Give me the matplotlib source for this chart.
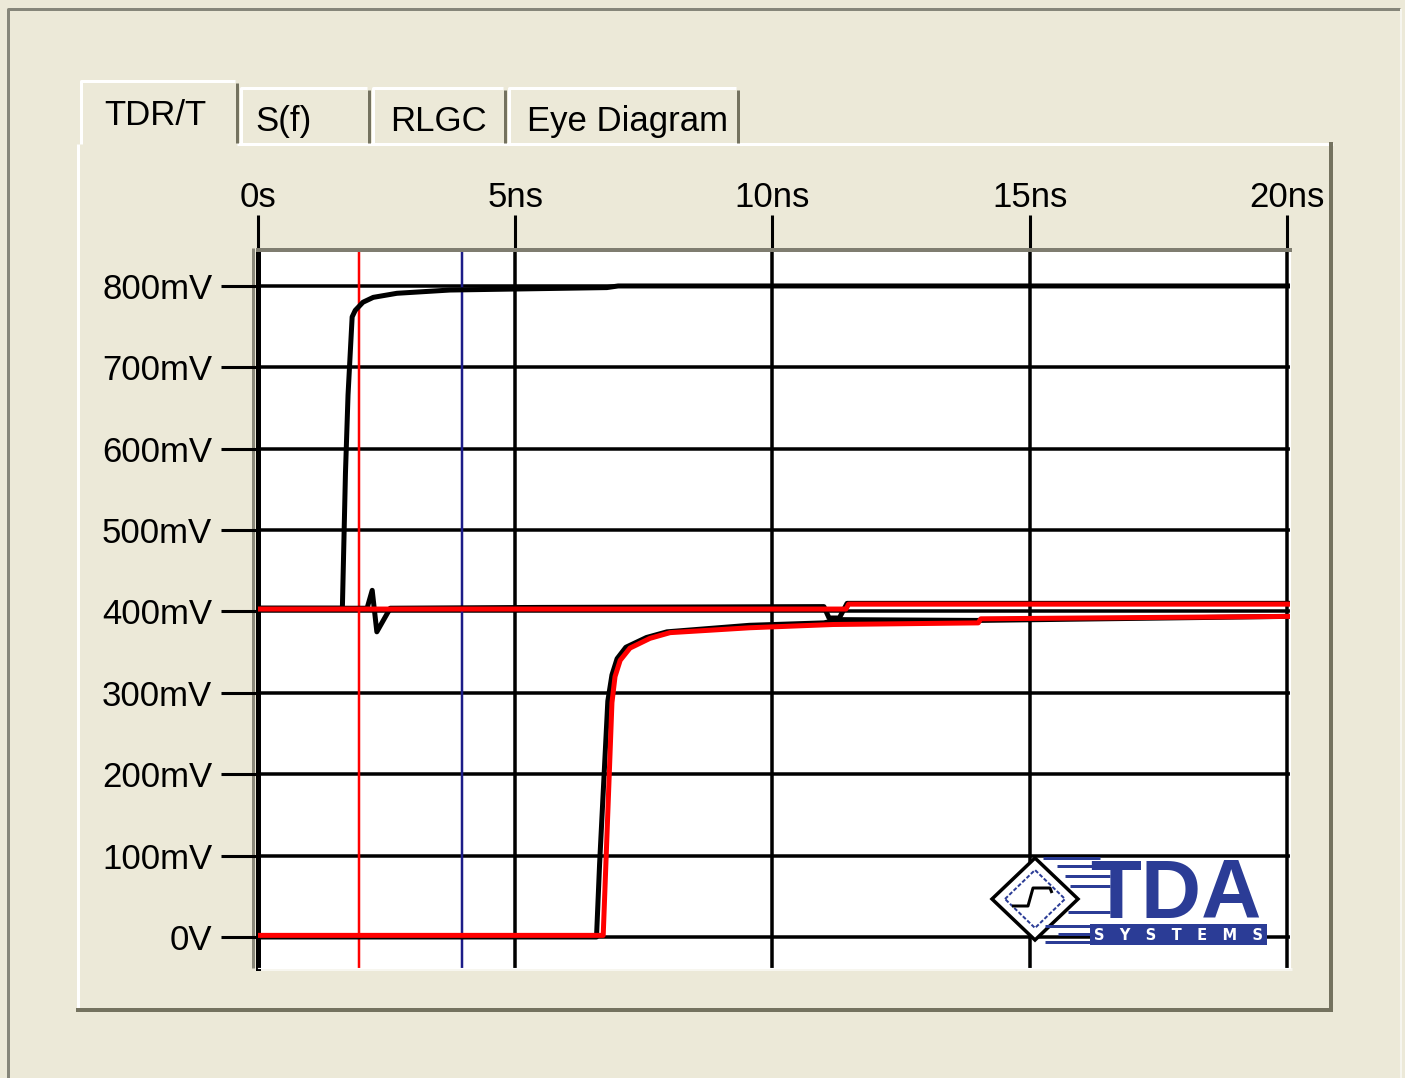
import numpy as np
import matplotlib.pyplot as plt
from matplotlib.patches import Rectangle, Polygon

plt.rcParams['font.family'] = ['Liberation Sans', 'DejaVu Sans']

W, H = 1405, 1078
BEIGE = '#ECE9D8'
SHADOW = '#74725f'
NAVY = '#2B3C96'

# axis ticks (time in ns, voltage in mV)
x_ticks = [0, 5, 10, 15, 20]
x_labels = ['0s', '5ns', '10ns', '15ns', '20ns']
y_ticks = [0, 100, 200, 300, 400, 500, 600, 700, 800]
y_labels = ['0V', '100mV', '200mV', '300mV', '400mV', '500mV', '600mV', '700mV', '800mV']
tabs = ['TDR/T', 'S(f)', 'RLGC', 'Eye Diagram']

# measured TDR (black)
tdr_meas_t = [0, 1.64, 1.70, 1.75, 1.83, 1.89, 2.04, 2.24, 2.70, 3.73, 6.78, 7.00, 20.06]
tdr_meas_v = [404, 404, 570, 666, 762, 770, 780, 786, 791, 795, 798, 800, 800]

# measured near-end trace around 400 mV (black)
near_meas_t = [0, 2.12, 2.22, 2.31, 2.57, 5.50, 11.00, 11.10, 11.30, 11.45, 20.06]
near_meas_v = [404, 404, 426, 375, 404, 405, 406, 392, 392, 410, 410]

# simulated TDR (red)
tdr_sim_t = [0, 11.43, 11.48, 20.06]
tdr_sim_v = [403, 403, 409, 409]

# measured T (black)
t_meas_t = [0, 6.58, 6.64, 6.80, 6.88, 6.98, 7.15, 7.55, 7.95, 8.75, 9.55, 11.00, 11.30, 14.00, 20.06]
t_meas_v = [0, 0, 90, 290, 322, 342, 356, 368, 375, 379, 383, 386, 390, 389, 394]

# simulated T (red)
t_sim_t = [0, 6.71, 6.88, 6.94, 7.04, 7.23, 7.62, 8.01, 8.79, 9.56, 11.18, 14.00, 14.05, 20.06]
t_sim_v = [2, 2, 288, 320, 340, 355, 367, 374, 377, 380, 384, 386, 391, 394]

# cursors
cursor_red = 1.96
cursor_blue = 3.97

PT = 0.72  # one pixel in points at dpi 100

fig = plt.figure(figsize=(W / 100, H / 100), dpi=100, facecolor=BEIGE)

# window chrome, drawn in pixel coordinates
bg = fig.add_axes([0, 0, 1, 1], zorder=0)
bg.set_xlim(0, W)
bg.set_ylim(H, 0)
bg.axis('off')
bg.set_facecolor(BEIGE)

def seg(a, xs, ys, color, px):
    a.plot(xs, ys, color=color, lw=px * PT, solid_capstyle='butt')

# outer frame
seg(bg, [8, 8, 1400], [H, 9, 9], '#86867a', 3)
seg(bg, [1401, 1401], [9, H], '#f6f5ee', 2)

# panel
seg(bg, [237, 1333], [144, 144], 'white', 3)
seg(bg, [78, 78], [144, 1011], 'white', 3)
seg(bg, [1331, 1331], [142, 1012], SHADOW, 4)
seg(bg, [76, 1333], [1010, 1010], SHADOW, 4)

# tabs
tab_x = [(80, 237), (240, 369), (372, 505), (508, 738)]
tab_top = [80, 87, 87, 87]
tab_text_x = [104, 255, 390, 527]
tab_base = [125, 131, 131, 131]
for (x0, x1), top, name, tx, tb in zip(tab_x, tab_top, tabs, tab_text_x, tab_base):
    seg(bg, [x0 + 1, x0 + 1, x1 - 2], [144, top + 1, top + 1], 'white', 3)
    seg(bg, [x1, x1], [top + 3, 143], SHADOW, 3)
    bg.text(tx, tb, name, fontsize=25, color='black', ha='left', va='baseline')

# plot area 3d border
seg(bg, [253, 253], [248, 968], '#8a887a', 3)
seg(bg, [255, 1292], [969, 969], '#f7f6ef', 3)

# main chart
ax = fig.add_axes([258 / W, 1 - 968 / H, (1290 - 258) / W, (968 - 250) / H], zorder=1)
ax.set_facecolor('white')
ax.set_xlim(0, 20.06)
ax.set_ylim(-38.1, 844.2)
ax.set_xticks(x_ticks)
ax.set_xticklabels(x_labels)
ax.set_yticks(y_ticks)
ax.set_yticklabels(y_labels)
ax.xaxis.tick_top()
ax.set_axisbelow(True)
ax.grid(True, color='black', lw=3.5 * PT)
ax.tick_params(axis='x', length=25, width=2.2, pad=1, labelsize=25, colors='black')
ax.tick_params(axis='y', length=27, width=2.2, pad=6, labelsize=25, colors='black')
ax.spines['left'].set_color('black')
ax.spines['left'].set_linewidth(5 * PT)
ax.spines['top'].set_color('#7f7d70')
ax.spines['top'].set_linewidth(4 * PT)
ax.spines['right'].set_color('white')
ax.spines['bottom'].set_color('white')

ax.axvline(cursor_red, color='red', lw=2.5 * PT, zorder=2)
ax.axvline(cursor_blue, color='#1c1c88', lw=2.5 * PT, zorder=2)

ax.plot(near_meas_t, near_meas_v, color='black', lw=5 * PT, zorder=3)
ax.plot(t_meas_t, t_meas_v, color='black', lw=5 * PT, zorder=3)
ax.plot(tdr_meas_t, tdr_meas_v, color='black', lw=5 * PT, zorder=3)
ax.plot(tdr_sim_t, tdr_sim_v, color='red', lw=5 * PT, zorder=4)
ax.plot(t_sim_t, t_sim_v, color='red', lw=5 * PT, zorder=4)

# TDA Systems logo on top
lg = fig.add_axes([0, 0, 1, 1], zorder=2)
lg.set_xlim(0, W)
lg.set_ylim(H, 0)
lg.axis('off')
lg.patch.set_alpha(0)

lg.add_patch(Polygon([[992, 899], [1035, 858], [1078, 899], [1035, 940]],
                     closed=True, fc='white', ec='black', lw=3.5 * PT))
lg.add_patch(Polygon([[1005, 899], [1035, 870], [1065, 899], [1035, 928]],
                     closed=True, fc='none', ec=NAVY, lw=2 * PT, ls=(0, (2, 1))))
seg(lg, [1012, 1028, 1033, 1050, 1052], [906, 906, 888, 888, 893], 'black', 3)

for y, x0, x1 in [(858, 1043, 1100), (866, 1057, 1100), (876, 1065, 1110), (886, 1070, 1110),
                  (912, 1068, 1110), (926, 1045, 1092), (934, 1058, 1092), (942, 1045, 1092)]:
    seg(lg, [x0, x1], [y, y], NAVY, 3)

lg.text(1090, 918, 'TDA', fontsize=60, fontweight='bold', color=NAVY,
        ha='left', va='baseline')
lg.add_patch(Rectangle((1090, 924), 177, 21, fc=NAVY, ec='none'))
lg.text(1178, 936, 'S   Y   S   T   E   M   S', fontsize=10.5, fontweight='bold',
        color='white', family='DejaVu Sans', ha='center', va='center')

plt.savefig('out.png', dpi=100, facecolor=BEIGE)
